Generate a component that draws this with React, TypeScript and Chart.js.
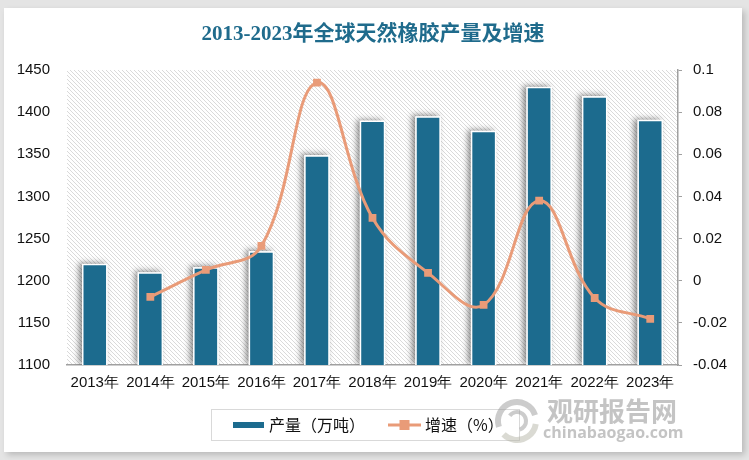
import React, { useEffect, useRef } from "react";
import { Chart, registerables } from "chart.js";

Chart.register(...registerables);

const categories = ["2013年", "2014年", "2015年", "2016年", "2017年", "2018年", "2019年", "2020年", "2021年", "2022年", "2023年"];
const outputValues = [1220, 1210, 1216, 1235, 1349, 1390, 1395, 1378, 1430, 1419, 1391];
const growthValues: (number | null)[] = [null, -0.0077, 0.0051, 0.0165, 0.094, 0.0298, 0.0037, -0.0115, 0.038, -0.0082, -0.0181];
const titleText = "2013-2023年全球天然橡胶产量及增速";
const outputLabel = "产量（万吨）";
const growthLabel = "增速（%）";
const watermarkCn = "观研报告网";
const watermarkEn = "chinabaogao.com";

const BAR_COLOR = "#1c6b8e";
const LINE_COLOR = "#e99b78";
const TICK_FONT = { family: "'Liberation Sans', Arial, sans-serif", size: 15 };

function makeHatch(): CanvasPattern | string {
  const c = document.createElement("canvas");
  c.width = 4;
  c.height = 4;
  const g = c.getContext("2d");
  if (!g) return "#f2f2f2";
  g.fillStyle = "#ffffff";
  g.fillRect(0, 0, 4, 4);
  g.fillStyle = "#dadada";
  for (let i = 0; i < 4; i++) g.fillRect(i, i, 1, 1);
  const p = g.createPattern(c, "repeat");
  return p || "#f2f2f2";
}

const decorPlugin = {
  id: "decor",
  beforeDraw(chart: any) {
    const { ctx, chartArea } = chart;
    ctx.save();
    ctx.fillStyle = makeHatch();
    ctx.fillRect(chartArea.left, chartArea.top, chartArea.right - chartArea.left, chartArea.bottom - chartArea.top);
    ctx.restore();
  },
  beforeDatasetsDraw(chart: any) {
    const { ctx, chartArea } = chart;
    const meta = chart.getDatasetMeta(0);
    ctx.save();
    ctx.beginPath();
    ctx.rect(chartArea.left, chartArea.top, chartArea.right - chartArea.left, chartArea.bottom - chartArea.top);
    ctx.clip();
    ctx.shadowColor = "rgba(0,0,0,0.45)";
    ctx.shadowBlur = 6;
    ctx.shadowOffsetX = -3;
    ctx.shadowOffsetY = -1;
    ctx.fillStyle = "#ffffff";
    meta.data.forEach((el: any) => {
      const p = el.getProps(["x", "y", "base", "width"], true);
      const bottom = Math.min(p.base, chartArea.bottom);
      ctx.fillRect(p.x - p.width / 2, p.y, p.width, bottom - p.y);
    });
    ctx.restore();
  },
  afterDraw(chart: any) {
    const { ctx } = chart;
    ctx.save();
    // legend box
    const lx = 207, ly = 401, lw = 308, lh = 31;
    ctx.strokeStyle = "#d9d9d9";
    ctx.lineWidth = 1;
    ctx.strokeRect(lx + 0.5, ly + 0.5, lw, lh);
    const cy = ly + lh / 2 + 0.5;
    ctx.fillStyle = BAR_COLOR;
    ctx.fillRect(229, cy - 3, 31, 6);
    ctx.font = "16px 'Noto Sans CJK SC', sans-serif";
    ctx.fillStyle = "#111";
    ctx.textBaseline = "middle";
    ctx.textAlign = "left";
    ctx.fillText(outputLabel, 265, cy);
    ctx.strokeStyle = LINE_COLOR;
    ctx.lineWidth = 3;
    ctx.beginPath();
    ctx.moveTo(384, cy);
    ctx.lineTo(417, cy);
    ctx.stroke();
    ctx.fillStyle = LINE_COLOR;
    ctx.fillRect(400.5 - 5, cy - 5, 10, 10);
    ctx.fillStyle = "#111";
    ctx.fillText(growthLabel, 421, cy);

    // watermark
    ctx.globalAlpha = 0.5;
    ctx.strokeStyle = "#9a9a9a";
    ctx.lineWidth = 6;
    ctx.beginPath();
    ctx.arc(513, 413, 19, Math.PI * 0.9, Math.PI * 1.9);
    ctx.stroke();
    ctx.strokeStyle = "#b5b5a8";
    ctx.beginPath();
    ctx.arc(513, 413, 19, Math.PI * 0.05, Math.PI * 0.75);
    ctx.stroke();
    ctx.strokeStyle = "#9a9a9a";
    ctx.lineWidth = 4;
    ctx.beginPath();
    ctx.arc(513, 413, 9, Math.PI * 1.2, Math.PI * 2.4);
    ctx.stroke();
    ctx.fillStyle = "#8a8a8a";
    ctx.font = "bold 26px 'Noto Sans CJK SC', sans-serif";
    ctx.fillText(watermarkCn, 543, 403);
    ctx.font = "bold 16px 'Open Sans', sans-serif";
    ctx.fillText(watermarkEn, 539, 425);
    ctx.restore();
  },
};

export default function App() {
  const ref = useRef<HTMLCanvasElement | null>(null);
  useEffect(() => {
    document.body.style.margin = "0";
    if (!ref.current) return;
    const chart = new Chart(ref.current, {
      type: "bar",
      data: {
        labels: categories,
        datasets: [
          {
            type: "bar",
            label: outputLabel,
            data: outputValues,
            backgroundColor: BAR_COLOR,
            borderColor: "#ffffff",
            borderWidth: 1.5,
            barPercentage: 0.46,
            categoryPercentage: 1,
            yAxisID: "y",
            order: 1,
          } as any,
          {
            type: "line",
            label: growthLabel,
            data: growthValues,
            borderColor: LINE_COLOR,
            backgroundColor: LINE_COLOR,
            borderWidth: 3,
            pointStyle: "rect",
            pointRadius: 5.5,
            pointBorderWidth: 0,
            pointBackgroundColor: LINE_COLOR,
            tension: 0.4,
            yAxisID: "y1",
            order: 0,
          } as any,
        ],
      },
      options: {
        responsive: false,
        animation: false,
        layout: { padding: { left: 0, right: 0, top: 0, bottom: 57 } },
        plugins: {
          legend: { display: false },
          tooltip: { enabled: false },
          title: {
            display: true,
            text: titleText,
            color: "#1f6b8c",
            font: { family: "'Liberation Serif', 'Times New Roman', 'Noto Sans CJK SC', serif", size: 21, weight: "bold" },
            padding: { top: 14, bottom: 22.8 },
          },
        },
        scales: {
          x: {
            offset: true,
            grid: { display: false, drawTicks: false },
            border: { display: true, color: "#a0a0a0", width: 1.5 },
            ticks: { color: "#111", font: TICK_FONT, padding: 9, maxRotation: 0, autoSkip: false },
            afterFit: (s: any) => { s.height = 30; },
          },
          y: {
            position: "left",
            min: 1100,
            max: 1450,
            ticks: {
              stepSize: 50,
              color: "#111",
              font: TICK_FONT,
              padding: 17,
              callback: (v: any) => String(v),
            },
            grid: { display: false, drawTicks: false },
            border: { display: false },
            afterFit: (s: any) => { s.width = 63; },
          },
          y1: {
            position: "right",
            min: -0.04,
            max: 0.1,
            ticks: {
              stepSize: 0.02,
              color: "#111",
              font: TICK_FONT,
              padding: 11,
              callback: (v: any) => String(Number(Number(v).toFixed(2))),
            },
            grid: { drawOnChartArea: false, drawTicks: true, tickLength: 4, color: "#a0a0a0" },
            border: { display: true, color: "#a0a0a0", width: 1.5 },
            afterFit: (s: any) => { s.width = 64; },
          },
        },
      },
      plugins: [decorPlugin],
    });
    return () => chart.destroy();
  }, []);

  return (
    <div style={{ position: "relative", width: 749, height: 460, background: "#e4e4e4", overflow: "hidden" }}>
      <div
        style={{
          position: "absolute",
          left: 4,
          top: 8,
          width: 738,
          height: 444,
          background: "#ffffff",
          boxShadow: "3px 3px 6px rgba(0,0,0,0.18)",
        }}
      >
        <canvas ref={ref} width={738} height={444} style={{ display: "block" }} />
      </div>
    </div>
  );
}
